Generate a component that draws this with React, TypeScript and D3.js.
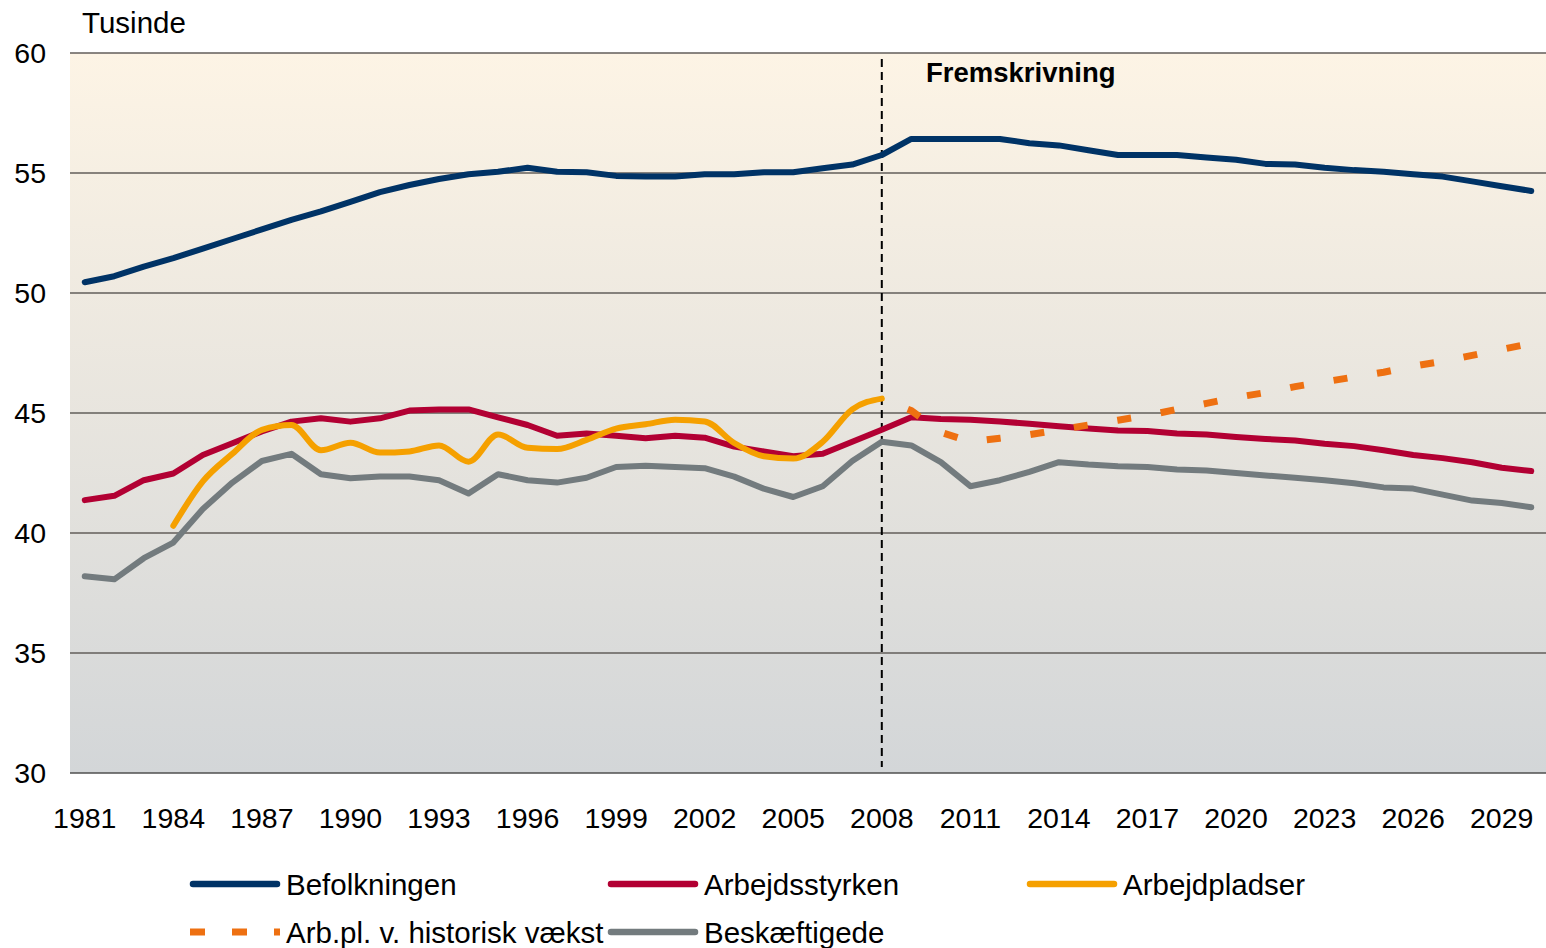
import React from "react";
import * as d3 from "d3";

const years: number[] = d3.range(1981, 2031);

const befolkningen = [50.45, 50.7, 51.1, 51.45, 51.85, 52.25, 52.65, 53.05, 53.4, 53.8, 54.2, 54.5, 54.75, 54.95, 55.05, 55.22, 55.05, 55.03, 54.88, 54.85, 54.85, 54.95, 54.95, 55.03, 55.03, 55.2, 55.35, 55.75, 56.42, 56.42, 56.42, 56.42, 56.24, 56.15, 55.95, 55.75, 55.75, 55.75, 55.65, 55.55, 55.38, 55.35, 55.22, 55.12, 55.05, 54.95, 54.85, 54.65, 54.45, 54.25];

const arbejdsstyrken = [41.37, 41.55, 42.2, 42.48, 43.25, 43.74, 44.23, 44.64, 44.78, 44.64, 44.78, 45.1, 45.15, 45.15, 44.82, 44.5, 44.05, 44.15, 44.05, 43.95, 44.05, 43.97, 43.6, 43.4, 43.2, 43.3, 43.8, 44.3, 44.82, 44.75, 44.72, 44.65, 44.55, 44.45, 44.35, 44.27, 44.25, 44.15, 44.1, 44.0, 43.92, 43.85, 43.72, 43.62, 43.45, 43.25, 43.12, 42.95, 42.72, 42.58];

const arbejdpladserYears: number[] = d3.range(1984, 2009);
const arbejdpladser = [40.3, 42.15, 43.3, 44.3, 44.5, 43.45, 43.76, 43.35, 43.4, 43.65, 42.97, 44.1, 43.55, 43.5, 43.88, 44.35, 44.53, 44.72, 44.65, 43.75, 43.2, 43.1, 43.8, 45.15, 45.6];

const historiskYears: number[] = d3.range(2008, 2031);
const historiskVaekst = [45.6, 45.1, 44.2, 43.8, 43.95, 44.1, 44.3, 44.5, 44.7, 44.9, 45.15, 45.4, 45.65, 45.85, 46.1, 46.3, 46.5, 46.7, 46.95, 47.15, 47.4, 47.65, 47.9];

const beskaeftigede = [38.2, 38.07, 38.95, 39.6, 41.0, 42.1, 43.0, 43.3, 42.45, 42.28, 42.35, 42.35, 42.2, 41.65, 42.45, 42.2, 42.1, 42.3, 42.75, 42.8, 42.75, 42.7, 42.35, 41.85, 41.5, 41.95, 43.0, 43.8, 43.65, 42.95, 41.95, 42.2, 42.55, 42.95, 42.85, 42.78, 42.75, 42.65, 42.6, 42.5, 42.4, 42.3, 42.2, 42.07, 41.9, 41.85, 41.6, 41.35, 41.25, 41.07];

const yTicks = [30, 35, 40, 45, 50, 55, 60];
const xTickYears: number[] = d3.range(1981, 2031, 3);
const projectionYear = 2008;

const W = 1546;
const H = 948;
const left = 70;
const right = 1546;
const top = 53;
const bottom = 773;
const FONT = "Liberation Sans, Arial, Helvetica, sans-serif";

const C_BEF = "#003366";
const C_ARB = "#b20033";
const C_PLA = "#f5a000";
const C_HIS = "#ee7011";
const C_BES = "#737b7e";

export default function App() {
  const x = d3.scalePoint<number>().domain(years).range([left, right]).padding(0.5);
  const y = d3.scaleLinear().domain([30, 60]).range([bottom, top]);

  const lineLin = (xs: number[], vs: number[]) =>
    d3.line<number>().x((_, i) => x(xs[i]) as number).y((v) => y(v)).curve(d3.curveLinear)(vs) || "";
  const lineSmooth = (xs: number[], vs: number[]) =>
    d3.line<number>().x((_, i) => x(xs[i]) as number).y((v) => y(v)).curve(d3.curveMonotoneX)(vs) || "";

  const px = x(projectionYear) as number;

  const legendRows = [
    [
      { label: "Befolkningen", color: C_BEF, dashed: false, x0: 190 },
      { label: "Arbejdsstyrken", color: C_ARB, dashed: false, x0: 608 },
      { label: "Arbejdpladser", color: C_PLA, dashed: false, x0: 1027 },
    ],
    [
      { label: "Arb.pl. v. historisk vækst", color: C_HIS, dashed: true, x0: 190 },
      { label: "Beskæftigede", color: C_BES, dashed: false, x0: 608 },
    ],
  ];

  const LW = 6;

  return (
    <svg width={W} height={H} style={{ position: "absolute", left: 0, top: 0, display: "block" }} fontFamily={FONT}>
      <defs>
        <linearGradient id="bg" x1="0" y1="0" x2="0" y2="1">
          <stop offset="0%" stopColor="#fdf4e5" />
          <stop offset="100%" stopColor="#d3d6d8" />
        </linearGradient>
      </defs>
      <rect x={0} y={0} width={W} height={H} fill="#ffffff" />
      <rect x={left} y={top} width={right - left} height={bottom - top} fill="url(#bg)" />

      {yTicks.map((t) => (
        <g key={t}>
          <line x1={left} x2={right} y1={y(t)} y2={y(t)} stroke={t === 30 ? "#4f4f4f" : "#625e5a"} strokeWidth={1.5} />
          <text x={46} y={y(t)} dy="0.36em" textAnchor="end" fontSize={28.5} fill="#000">
            {t}
          </text>
        </g>
      ))}

      <text x={82} y={33} fontSize={29.5} fill="#000">Tusinde</text>

      {xTickYears.map((yr) => (
        <text key={yr} x={x(yr) as number} y={828} textAnchor="middle" fontSize={28.5} fill="#000">
          {yr}
        </text>
      ))}

      <line x1={px} x2={px} y1={59} y2={767} stroke="#000" strokeWidth={2} strokeDasharray="8,5" />
      <text x={926} y={82} fontSize={27.5} fontWeight="bold" fill="#000">Fremskrivning</text>

      <path d={lineLin(years, beskaeftigede)} fill="none" stroke={C_BES} strokeWidth={LW} strokeLinejoin="round" strokeLinecap="round" />
      <path d={lineLin(years, arbejdsstyrken)} fill="none" stroke={C_ARB} strokeWidth={LW} strokeLinejoin="round" strokeLinecap="round" />
      <path d={lineSmooth(arbejdpladserYears, arbejdpladser)} fill="none" stroke={C_PLA} strokeWidth={LW} strokeLinejoin="round" strokeLinecap="round" />
      <path d={lineLin(historiskYears, historiskVaekst)} fill="none" stroke={C_HIS} strokeWidth={7} strokeDasharray="14,30" strokeDashoffset={-28} />
      <path d={lineLin(years, befolkningen)} fill="none" stroke={C_BEF} strokeWidth={LW} strokeLinejoin="round" strokeLinecap="round" />

      {legendRows.map((row, ri) =>
        row.map((it) => {
          const ly = 884 + ri * 48;
          return (
            <g key={it.label}>
              {it.dashed ? (
                <line x1={it.x0} x2={it.x0 + 90} y1={ly} y2={ly} stroke={it.color} strokeWidth={7} strokeDasharray="15,27" />
              ) : (
                <line x1={it.x0 + 3} x2={it.x0 + 87} y1={ly} y2={ly} stroke={it.color} strokeWidth={6.5} strokeLinecap="round" />
              )}
              <text x={it.x0 + 96} y={ly} dy="0.36em" fontSize={29.5} fill="#000">
                {it.label}
              </text>
            </g>
          );
        })
      )}
    </svg>
  );
}
